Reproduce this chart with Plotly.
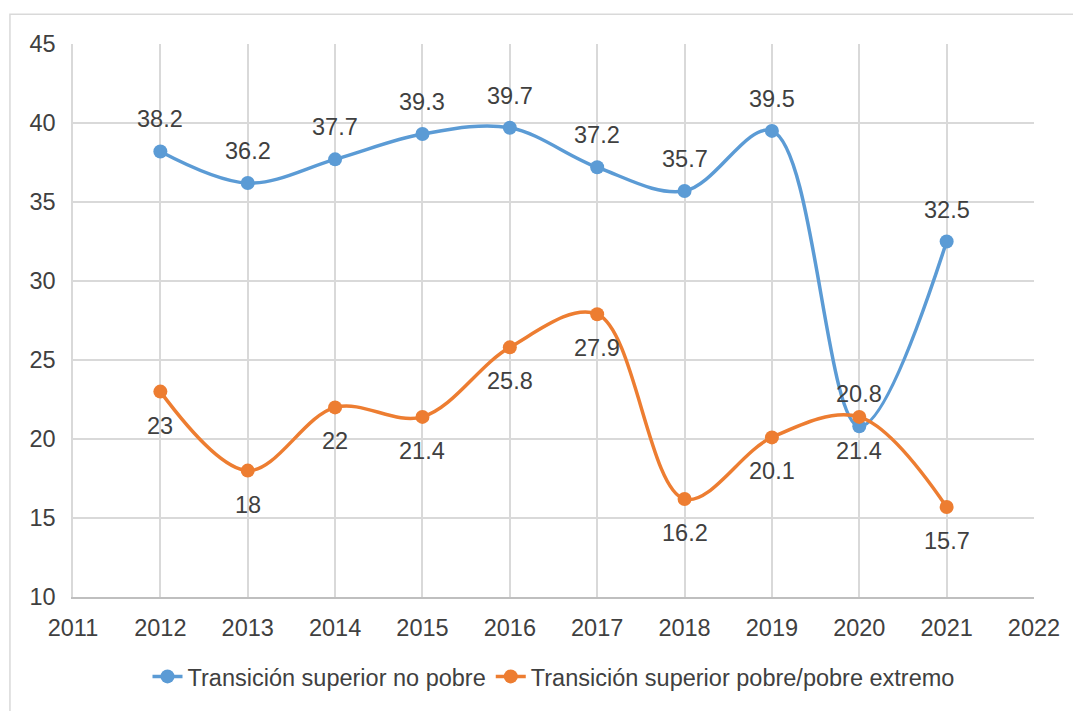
import plotly.graph_objects as go

years = [2012, 2013, 2014, 2015, 2016, 2017, 2018, 2019, 2020, 2021]
no_pobre = [38.2, 36.2, 37.7, 39.3, 39.7, 37.2, 35.7, 39.5, 20.8, 32.5]
pobre = [23, 18, 22, 21.4, 25.8, 27.9, 16.2, 20.1, 21.4, 15.7]
name_a = "Transición superior no pobre"
name_b = "Transición superior pobre/pobre extremo"
blue = "#5B9BD5"
orange = "#ED7D31"
txt = "#404040"
font_family = "Liberation Sans, Arial, sans-serif"
fs = 23.5

fig = go.Figure()
fig.add_trace(go.Scatter(x=years, y=no_pobre, name=name_a, mode="lines+markers",
                         line=dict(color=blue, width=3.5, shape="spline", smoothing=1.0),
                         marker=dict(color=blue, size=14)))
fig.add_trace(go.Scatter(x=years, y=pobre, name=name_b, mode="lines+markers",
                         line=dict(color=orange, width=3.5, shape="spline", smoothing=1.0),
                         marker=dict(color=orange, size=14)))

for x, y in zip(years, no_pobre):
    fig.add_annotation(x=x, y=y, text=f"{y:g}", showarrow=False, yshift=32,
                       font=dict(size=fs, color=txt, family=font_family))
for x, y in zip(years, pobre):
    fig.add_annotation(x=x, y=y, text=f"{y:g}", showarrow=False, yshift=-34,
                       font=dict(size=fs, color=txt, family=font_family))

# outer chart frame (only top and left edges visible in the reference)
fig.add_shape(type="rect", xref="paper", yref="paper",
              x0=-0.0656, x1=1.2, y0=-0.3, y1=1.054,
              line=dict(color="#d9d9d9", width=1.5), layer="below")

fig.update_layout(
    width=1073, height=711,
    margin=dict(l=73, r=39, t=44, b=111),
    paper_bgcolor="white", plot_bgcolor="white",
    font=dict(family=font_family, size=fs, color=txt),
    showlegend=True,
    legend=dict(orientation="h", x=0.5, xanchor="center", y=-0.144, yanchor="middle",
                font=dict(size=fs, color=txt), tracegroupgap=0),
)
fig.update_xaxes(range=[2011, 2022], tickmode="linear", tick0=2011, dtick=1,
                 showgrid=True, gridcolor="#d9d9d9", gridwidth=1.5,
                 showline=True, linecolor="#bfbfbf", linewidth=1.5,
                 zeroline=False, ticks="outside", ticklen=9, tickcolor="white",
                 tickfont=dict(size=fs, color=txt), mirror=False)
fig.update_yaxes(range=[10, 45], tickmode="linear", tick0=10, dtick=5,
                 showgrid=True, gridcolor="#d9d9d9", gridwidth=1.5,
                 showline=True, linecolor="#d9d9d9", linewidth=1.5,
                 zeroline=False, ticks="outside", ticklen=11, tickcolor="white",
                 tickfont=dict(size=fs, color=txt))

fig.write_html("out.html", config={"displayModeBar": False},
               post_script="document.body.style.margin='0';document.body.style.overflow='hidden';")
